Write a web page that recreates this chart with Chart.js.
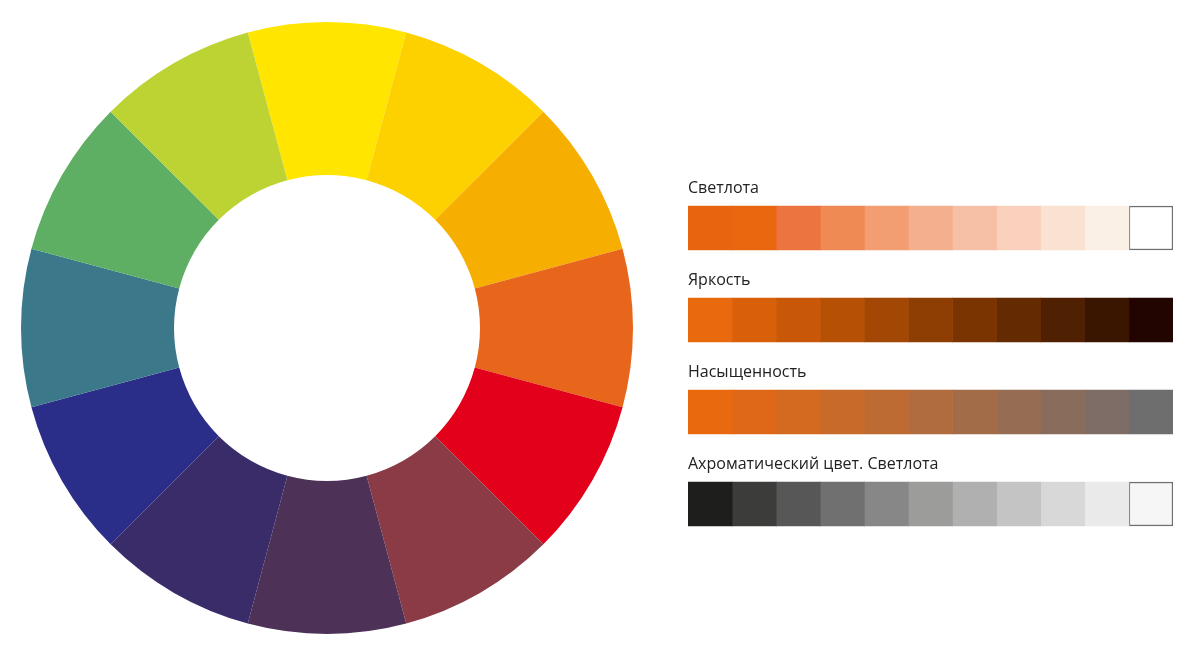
<!DOCTYPE html>
<html>
<head>
<meta charset="utf-8">
<script src="https://cdn.jsdelivr.net/npm/chart.js@4/dist/chart.umd.min.js"></script>
<style>
  body { margin: 0; background: #fff; width: 1200px; height: 658px; position: relative; overflow: hidden; }
  #wheel { position: absolute; left: 0; top: 0; }
  #strips { position: absolute; left: 688px; top: 152px; }
</style>
</head>
<body>
<div id="wheel" style="width:654px;height:656px"><canvas id="wheelChart"></canvas></div>
<div id="strips" style="width:486px;height:398px"><canvas id="stripChart"></canvas></div>
<script>
// colour wheel, clockwise from the top
const wheelColors = ['#FFE500', '#FDD000', '#F6AF00', '#E8661C', '#E2001A', '#8A3B45',
                     '#4D3157', '#392C69', '#2B2E88', '#3B788A', '#5EAF64', '#BDD333'];
const wheelValues = [1, 1, 1, 1, 1, 1, 1, 1, 1, 1, 1, 1];

// strips
const stripLabels = ['Светлота', 'Яркость', 'Насыщенность', 'Ахроматический цвет. Светлота'];
const stripRows = [
  ['#E9640F', '#EA6710', '#EC7440', '#EF8A55', '#F29E72', '#F4B08E', '#F6C0A6', '#F9D1BC', '#FAE2D2', '#FBF0E6', '#FFFFFF'],
  ['#E9690E', '#D9600A', '#C85808', '#B65005', '#A24704', '#8F3E03', '#7A3402', '#642A01', '#4F2001', '#3A1600', '#220500'],
  ['#E96A0E', '#DF6818', '#D46920', '#C86A2A', '#BD6B33', '#B06C3E', '#A36C48', '#966C52', '#8A6C5C', '#7D6D66', '#6E6E6E'],
  ['#1E1E1C', '#3C3C3A', '#575757', '#707070', '#878787', '#9C9C9B', '#B0B0B0', '#C4C4C4', '#D8D8D8', '#EAEAEA', '#F6F6F6']
];
const cellValue = 1;

new Chart(document.getElementById('wheelChart'), {
    type: 'doughnut',
    data: {
        labels: wheelColors,
        datasets: [{ data: wheelValues, backgroundColor: wheelColors, borderWidth: 0 }]
    },
    options: {
        responsive: true,
        maintainAspectRatio: false,
        animation: false,
        rotation: -15,
        cutout: '50%',
        layout: { padding: 21 },
        plugins: { legend: { display: false }, tooltip: { enabled: false } }
    }
});

const stripSets = [];
for (let c = 0; c < 11; c++) {
    stripSets.push({
        data: stripRows.map(() => cellValue),
        backgroundColor: stripRows.map(r => r[c]),
        borderColor: stripRows.map((r, i) => (c === 10 && (i === 0 || i === 3)) ? '#6f6f6f' : r[c]),
        borderWidth: stripRows.map((r, i) => (c === 10 && (i === 0 || i === 3)) ? 1.5 : 0),
        borderSkipped: false,
        barThickness: 44
    });
}

const labelPlugin = {
    id: 'rowLabels',
    afterDraw(chart) {
        const ctx = chart.ctx;
        const y = chart.scales.y;
        ctx.save();
        ctx.font = "16px 'Open Sans', 'Noto Sans', sans-serif";
        ctx.fillStyle = '#222';
        ctx.textBaseline = 'alphabetic';
        stripLabels.forEach((t, i) => {
            ctx.fillText(t, chart.chartArea.left, y.getPixelForValue(i) - 35);
        });
        ctx.restore();
    }
};

new Chart(document.getElementById('stripChart'), {
    type: 'bar',
    data: { labels: stripLabels, datasets: stripSets },
    options: {
        indexAxis: 'y',
        responsive: true,
        maintainAspectRatio: false,
        animation: false,
        layout: { padding: { top: 30, left: 0, right: 1, bottom: 0 } },
        scales: {
            x: { stacked: true, min: 0, max: 11, display: false },
            y: { stacked: true, display: false }
        },
        plugins: { legend: { display: false }, tooltip: { enabled: false } }
    },
    plugins: [labelPlugin]
});
</script>
</body>
</html>
